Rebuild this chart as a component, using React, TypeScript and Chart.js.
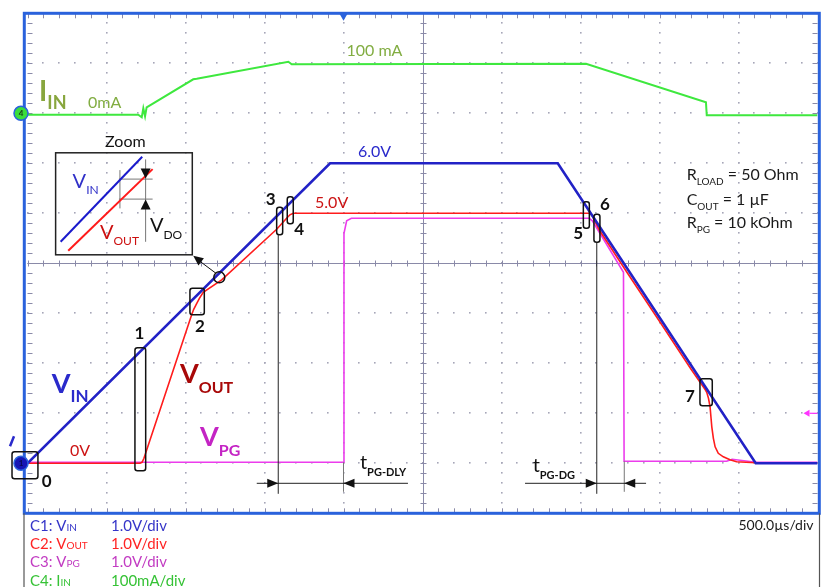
import React, { useEffect, useRef } from "react";
import { Chart, registerables } from "chart.js";

Chart.register(...registerables);

const WIDTH = 827;
const HEIGHT = 587;
const FONT = "Lato, 'Open Sans', 'Liberation Sans', sans-serif";

// Time axis: 500 µs/div, 10 divisions
const timeMin = 0;
const timeMax = 5000;
const timeDiv = 500;
// C1..C3 voltage axis: 1.0 V/div (ground one division above bottom)
const voltMin = -1;
const voltMax = 9;
// C4 current axis: 100 mA/div (ground eight divisions above bottom)
const currentMin = -800;
const currentMax = 200;

// C1: V_IN (V)
const vinTime = [0, 1915, 3356, 4609, 5000];
const vinVolts = [0, 6.0, 6.0, 0, 0];

// C2: V_OUT (V)
const voutTime = [0, 712, 725, 737, 1039, 1052, 1068, 1088, 1112, 1229, 1577, 1640, 1661, 1682, 3560, 3575, 3620, 3800, 4000, 4200, 4290, 4299, 4310, 4320, 4331, 4341, 4352, 4372, 4404, 4446, 4488, 4609, 5000];
const voutVolts = [0, 0, 0.02, 0.1, 2.97, 3.08, 3.18, 3.3, 3.42, 3.67, 4.68, 4.9, 4.97, 5.0, 5.0, 4.95, 4.66, 3.79, 2.84, 1.88, 1.47, 1.42, 1.3, 1.13, 0.73, 0.5, 0.33, 0.2, 0.13, 0.07, 0.03, 0.01, 0.01];

// C3: V_PG (V)
const vpgTime = [0, 2000, 2003, 2020, 2050, 3555, 3575, 3772, 3776, 4425, 4460, 4609, 5000];
const vpgVolts = [0.02, 0.02, 4.6, 4.85, 4.9, 4.9, 4.85, 3.82, 0.04, 0.04, 0.08, 0.02, 0.02];

// C4: I_IN (mA)
const iinTime = [0, 701, 723, 733, 744, 754, 1049, 1071, 1651, 1672, 3535, 4294, 4299, 5000];
const iinMilliamps = [-3, -3, -8, 10, -6, 12, 68, 69, 103, 98, 99, 22, -4, -4];

// Numbered event boxes (time range µs, volt range V, label position)
const boxT1 = [-98, 680, 1028, 1577, 1644, 3518, 3585, 4256];
const boxT2 = [66, 748, 1119, 1615, 1682, 3556, 3623, 4334];
const boxVTop = [0.23, 2.31, 3.5, 5.12, 5.33, 5.23, 4.98, 1.69];
const boxVBot = [-0.31, -0.15, 2.97, 4.57, 4.79, 4.7, 4.42, 1.15];
const boxLabels = ["0", "1", "2", "3", "4", "5", "6", "7"];
const boxLabelT = [122, 708, 1092, 1539, 1720, 3486, 3655, 4193];
const boxLabelV = [-0.37, 2.6, 2.73, 5.28, 4.67, 4.6, 5.17, 1.33];

const legendNames = ["C1: V", "C2: V", "C3: V", "C4: I"];
const legendSubs = ["IN", "OUT", "PG", "IN"];
const legendScales = ["1.0V/div", "1.0V/div", "1.0V/div", "100mA/div"];
const legendColors = ["#3535c8", "#ff2424", "#c23cc2", "#36c236"];

const conditionMain = ["R", "C", "R"];
const conditionSub = ["LOAD", "OUT", "PG"];
const conditionRest = [" = 50 Ohm", " = 1 \u00b5F", " = 10 kOhm"];

function pts(t: number[], v: number[]) {
  return t.map((x, i) => ({ x, y: v[i] }));
}

function tri(ctx: CanvasRenderingContext2D, x: number, y: number, dir: string, len: number, half: number) {
  ctx.beginPath();
  ctx.moveTo(x, y);
  if (dir === "right") { ctx.lineTo(x - len, y - half); ctx.lineTo(x - len, y + half); }
  else if (dir === "left") { ctx.lineTo(x + len, y - half); ctx.lineTo(x + len, y + half); }
  else if (dir === "down") { ctx.lineTo(x - half, y - len); ctx.lineTo(x + half, y - len); }
  else { ctx.lineTo(x - half, y + len); ctx.lineTo(x + half, y + len); }
  ctx.closePath();
  ctx.fill();
}

function line(ctx: CanvasRenderingContext2D, x1: number, y1: number, x2: number, y2: number) {
  ctx.beginPath();
  ctx.moveTo(x1, y1);
  ctx.lineTo(x2, y2);
  ctx.stroke();
}

function subText(ctx: CanvasRenderingContext2D, x: number, y: number, main: string, sub: string, mainFont: string, subFont: string, dy: number, color: string, rest?: string) {
  ctx.fillStyle = color;
  ctx.textAlign = "left";
  ctx.textBaseline = "alphabetic";
  ctx.font = mainFont;
  ctx.fillText(main, x, y);
  const w = ctx.measureText(main).width;
  ctx.font = subFont;
  ctx.fillText(sub, x + w, y + dy);
  if (rest) {
    const w2 = ctx.measureText(sub).width;
    ctx.font = mainFont;
    ctx.fillText(rest, x + w + w2, y);
  }
}

function roundRect(ctx: CanvasRenderingContext2D, x1: number, y1: number, x2: number, y2: number, r: number) {
  ctx.beginPath();
  ctx.moveTo(x1 + r, y1);
  ctx.lineTo(x2 - r, y1);
  ctx.quadraticCurveTo(x2, y1, x2, y1 + r);
  ctx.lineTo(x2, y2 - r);
  ctx.quadraticCurveTo(x2, y2, x2 - r, y2);
  ctx.lineTo(x1 + r, y2);
  ctx.quadraticCurveTo(x1, y2, x1, y2 - r);
  ctx.lineTo(x1, y1 + r);
  ctx.quadraticCurveTo(x1, y1, x1 + r, y1);
  ctx.closePath();
  ctx.stroke();
}

const gridPlugin = {
  id: "scopeGrid",
  beforeDraw(chart: any) {
    const { ctx, width, height } = chart;
    ctx.save();
    ctx.fillStyle = "#ffffff";
    ctx.fillRect(0, 0, width, height);
    ctx.restore();
  },
  beforeDatasetsDraw(chart: any) {
    const ctx: CanvasRenderingContext2D = chart.ctx;
    const a = chart.chartArea;
    const xs = chart.scales.x;
    const ys = chart.scales.y;
    ctx.save();
    ctx.fillStyle = "#a6a6b8";
    for (let k = 1; k < 10; k++) {
      if (k === 5) continue;
      const px = Math.round(xs.getPixelForValue(timeMin + k * timeDiv));
      for (let v = voltMin; v <= voltMax + 1e-6; v += 0.2) {
        const py = Math.round(ys.getPixelForValue(v));
        ctx.fillRect(px - 1, py - 1, 1.6, 1.6);
      }
    }
    for (let j = 1; j < 10; j++) {
      if (j === 5) continue;
      const py = Math.round(ys.getPixelForValue(voltMin + j));
      for (let t = timeMin; t <= timeMax + 1e-6; t += timeDiv / 5) {
        const px = Math.round(xs.getPixelForValue(t));
        ctx.fillRect(px - 1, py - 1, 1.6, 1.6);
      }
    }
    ctx.strokeStyle = "#8a8aa8";
    ctx.lineWidth = 1;
    const cx = Math.round(xs.getPixelForValue((timeMin + timeMax) / 2)) + 0.5;
    const cy = Math.round(ys.getPixelForValue((voltMin + voltMax) / 2)) + 0.5;
    line(ctx, a.left, cy, a.right, cy);
    line(ctx, cx, a.top, cx, a.bottom);
    for (let t = timeMin; t <= timeMax + 1e-6; t += timeDiv / 5) {
      const px = Math.round(xs.getPixelForValue(t)) + 0.5;
      line(ctx, px, cy - 3, px, cy + 3);
      line(ctx, px, a.top, px, a.top + 5);
      line(ctx, px, a.bottom - 5, px, a.bottom);
    }
    for (let v = voltMin; v <= voltMax + 1e-6; v += 0.2) {
      const py = Math.round(ys.getPixelForValue(v)) + 0.5;
      line(ctx, cx - 3, py, cx + 3, py);
      line(ctx, a.left, py, a.left + 5, py);
      line(ctx, a.right - 5, py, a.right, py);
    }
    ctx.restore();
  },
};

const annotationPlugin = {
  id: "scopeAnnotations",
  afterDatasetsDraw(chart: any) {
    const ctx: CanvasRenderingContext2D = chart.ctx;
    const a = chart.chartArea;
    const xs = chart.scales.x;
    const ys = chart.scales.y;
    const yi = chart.scales.yI;
    const X = (t: number) => xs.getPixelForValue(t);
    const Y = (v: number) => ys.getPixelForValue(v);
    ctx.save();

    // frame
    ctx.strokeStyle = "#2a62dc";
    ctx.lineWidth = 3;
    ctx.strokeRect(a.left - 3.2, a.top, a.right - a.left + 5, a.bottom - a.top);
    ctx.strokeStyle = "#555555";
    ctx.lineWidth = 1.2;
    line(ctx, a.left - 3.5, a.bottom, a.left - 3.5, HEIGHT);
    line(ctx, a.right + 2, a.bottom, a.right + 2, HEIGHT);

    // trigger marker
    ctx.fillStyle = "#2a62dc";
    tri(ctx, X(2000), a.top + 7.5, "down", 7, 4);

    // channel ground markers
    const m4y = yi.getPixelForValue(0);
    ctx.beginPath();
    ctx.arc(a.left - 6.5, m4y, 7, 0, Math.PI * 2);
    ctx.fillStyle = "#3ade3a";
    ctx.fill();
    ctx.strokeStyle = "#2a62dc";
    ctx.lineWidth = 1.5;
    ctx.stroke();
    ctx.fillStyle = "#1a3a1a";
    ctx.font = `bold 8px ${FONT}`;
    ctx.textAlign = "center";
    ctx.textBaseline = "middle";
    ctx.fillText("4", a.left - 6.5, m4y + 0.5);

    const m1y = Y(0);
    ctx.beginPath();
    ctx.arc(a.left - 6.5, m1y, 7, 0, Math.PI * 2);
    ctx.fillStyle = "#1616b4";
    ctx.fill();
    ctx.strokeStyle = "#2a62dc";
    ctx.stroke();
    ctx.fillStyle = "#0a0a50";
    ctx.fillText("1", a.left - 6.5, m1y + 0.5);
    ctx.strokeStyle = "#2a2acb";
    ctx.lineWidth = 2.5;
    line(ctx, a.left - 17.5, m1y - 17, a.left - 13.5, m1y - 27);

    // channel 3 reference marker (right)
    ctx.fillStyle = "#ff33ff";
    ctx.strokeStyle = "#ff33ff";
    ctx.lineWidth = 1.2;
    tri(ctx, a.right - 14, Y(1), "left", 6, 3.5);
    line(ctx, a.right - 8, Y(1), a.right, Y(1));

    // numbered boxes
    ctx.strokeStyle = "#111111";
    ctx.lineWidth = 1.5;
    for (let i = 0; i < boxLabels.length; i++) {
      roundRect(ctx, X(boxT1[i]), Y(boxVTop[i]), X(boxT2[i]), Y(boxVBot[i]), 2.5);
    }
    ctx.fillStyle = "#111111";
    ctx.font = `bold 17px ${FONT}`;
    ctx.textAlign = "center";
    ctx.textBaseline = "middle";
    for (let i = 0; i < boxLabels.length; i++) {
      ctx.fillText(boxLabels[i], X(boxLabelT[i]), Y(boxLabelV[i]));
    }

    // timing dimension lines
    ctx.strokeStyle = "#222222";
    ctx.lineWidth = 1;
    line(ctx, X(1587), Y(4.57), X(1587), Y(-0.61));
    line(ctx, X(3603), Y(4.42), X(3603), Y(-0.61));
    ctx.strokeStyle = "#777777";
    line(ctx, X(2000), Y(0.02), X(2000), Y(-0.57));
    line(ctx, X(3777), Y(0.04), X(3777), Y(-0.57));
    ctx.strokeStyle = "#222222";
    const dy = Y(-0.4);
    line(ctx, X(1451), dy, X(2408), dy);
    line(ctx, X(3149), dy, X(3915), dy);
    ctx.fillStyle = "#111111";
    tri(ctx, X(1587), dy, "right", 11, 4.5);
    tri(ctx, X(2000), dy, "left", 11, 4.5);
    tri(ctx, X(3603), dy, "right", 11, 4.5);
    tri(ctx, X(3777), dy, "left", 11, 4.5);
    subText(ctx, X(2104), Y(-0.11), "t", "PG-DLY", `20px ${FONT}`, `bold 11px ${FONT}`, 7, "#111111");
    subText(ctx, X(3197), Y(-0.17), "t", "PG-DG", `20px ${FONT}`, `bold 11px ${FONT}`, 7, "#111111");

    // zoom inset
    const ix = X(178), iy = Y(6.21), ix2 = X(1043), iy2 = Y(4.17);
    ctx.strokeStyle = "#222222";
    ctx.lineWidth = 1.5;
    ctx.strokeRect(ix, iy, ix2 - ix, iy2 - iy);
    ctx.fillStyle = "#111111";
    ctx.font = `16px ${FONT}`;
    ctx.textAlign = "left";
    ctx.textBaseline = "alphabetic";
    ctx.fillText("Zoom", X(491), Y(6.33));
    ctx.strokeStyle = "#777777";
    ctx.lineWidth = 1;
    line(ctx, ix + 63.3, iy + 26.3, ix + 97, iy + 26.3);
    line(ctx, ix + 63.3, iy + 46.3, ix + 97, iy + 46.3);
    line(ctx, ix + 64.3, iy + 17.3, ix + 64.3, iy + 55.6);
    line(ctx, ix + 90, iy + 6.6, ix + 90, iy + 89);
    ctx.strokeStyle = "#1a1acc";
    ctx.lineWidth = 2;
    line(ctx, ix + 5, iy + 89, ix + 86.6, iy + 4);
    ctx.strokeStyle = "#ff1a1a";
    line(ctx, ix + 12.6, iy + 98, ix + 97, iy + 16.3);
    ctx.fillStyle = "#111111";
    tri(ctx, ix + 90, iy + 25.6, "down", 10, 5);
    tri(ctx, ix + 90, iy + 46.6, "up", 10, 5);
    subText(ctx, ix + 17, iy + 35.6, "V", "IN", `20px ${FONT}`, `12px ${FONT}`, 6, "#3030c8");
    subText(ctx, ix + 44.3, iy + 86.6, "V", "OUT", `20px ${FONT}`, `12px ${FONT}`, 6, "#cc1010");
    subText(ctx, ix + 94.3, iy + 79, "V", "DO", `20px ${FONT}`, `12px ${FONT}`, 7, "#111111");

    // pointer circle and arrow
    ctx.strokeStyle = "#111111";
    ctx.lineWidth = 1.5;
    ctx.beginPath();
    ctx.arc(X(1214), Y(3.72), 5.5, 0, Math.PI * 2);
    ctx.stroke();
    ctx.lineWidth = 1;
    line(ctx, X(1193), Y(3.8), X(1049) + 6, Y(4.15) + 5);
    ctx.save();
    ctx.translate(X(1049), Y(4.15));
    ctx.rotate(Math.atan2(Y(4.15) - Y(3.8), X(1049) - X(1193)) + Math.PI);
    ctx.fillStyle = "#111111";
    tri(ctx, 0, 0, "left", 10, 4.5);
    ctx.restore();

    // trace labels
    subText(ctx, X(73), Y(7.25), "I", "IN", `bold 28px ${FONT}`, `bold 18px ${FONT}`, 8, "#88a63e");
    ctx.fillStyle = "#82ad42";
    ctx.font = `16px ${FONT}`;
    ctx.fillText("0mA", X(383), Y(7.11));
    ctx.fillText("100 mA", X(2019), Y(8.15));
    ctx.fillStyle = "#2a2acb";
    ctx.fillText("6.0V", X(2092), Y(6.13));
    ctx.fillStyle = "#cc1414";
    ctx.fillText("5.0V", X(1820), Y(5.1));
    ctx.fillText("0V", X(269), Y(0.15));
    subText(ctx, X(153), Y(1.4), "V", "IN", `bold 27px ${FONT}`, `bold 17px ${FONT}`, 9, "#2a2acb");
    subText(ctx, X(965), Y(1.6), "V", "OUT", `bold 27px ${FONT}`, `bold 16px ${FONT}`, 10, "#a80808");
    subText(ctx, X(1092), Y(0.35), "V", "PG", `bold 27px ${FONT}`, `bold 16px ${FONT}`, 10, "#c424c4");

    // test conditions
    const condV = [5.67, 5.17, 4.7];
    for (let i = 0; i < 3; i++) {
      subText(ctx, X(4172), Y(condV[i]), conditionMain[i], conditionSub[i], `16px ${FONT}`, `10px ${FONT}`, 5, "#1a1a1a", conditionRest[i]);
    }

    // bottom readout
    for (let i = 0; i < 4; i++) {
      const by = a.bottom + 17.7 + i * 18.2;
      subText(ctx, a.left + 2.5, by, legendNames[i], legendSubs[i], `15px ${FONT}`, `10px ${FONT}`, 0, legendColors[i]);
      ctx.font = `15px ${FONT}`;
      ctx.fillText(legendScales[i], a.left + 83.5, by);
    }
    ctx.fillStyle = "#1a1a1a";
    ctx.font = `14px ${FONT}`;
    ctx.textAlign = "right";
    ctx.fillText("500.0\u00b5s/div", a.right - 4, a.bottom + 16.7);

    ctx.restore();
  },
};

export default function App() {
  const ref = useRef<HTMLCanvasElement | null>(null);
  useEffect(() => {
    if (!ref.current) return;
    const chart = new Chart(ref.current, {
      type: "line",
      data: {
        datasets: [
          { label: "VIN", data: pts(vinTime, vinVolts), borderColor: "#2222c6", borderWidth: 2.6, pointRadius: 0, tension: 0, yAxisID: "y" },
          { label: "VOUT", data: pts(voutTime, voutVolts), borderColor: "#ff1c1c", borderWidth: 1.6, pointRadius: 0, tension: 0, yAxisID: "y" },
          { label: "VPG", data: pts(vpgTime, vpgVolts), borderColor: "#ec3cec", borderWidth: 1.6, pointRadius: 0, tension: 0, yAxisID: "y" },
          { label: "IIN", data: pts(iinTime, iinMilliamps), borderColor: "#3ee83e", borderWidth: 2, pointRadius: 0, tension: 0, yAxisID: "yI" },
        ],
      } as any,
      options: {
        animation: false,
        responsive: false,
        devicePixelRatio: 1,
        events: [],
        layout: { padding: { left: 27.5, right: WIDTH - 817.5, top: 13.3, bottom: HEIGHT - 513.3 } },
        plugins: { legend: { display: false }, tooltip: { enabled: false } },
        scales: {
          x: { type: "linear", min: timeMin, max: timeMax, display: false },
          y: { type: "linear", min: voltMin, max: voltMax, display: false },
          yI: { type: "linear", min: currentMin, max: currentMax, display: false },
        },
      } as any,
      plugins: [gridPlugin, annotationPlugin],
    });
    return () => chart.destroy();
  }, []);
  return (
    <div style={{ position: "absolute", left: 0, top: 0, width: WIDTH, height: HEIGHT, background: "#fff" }}>
      <canvas ref={ref} width={WIDTH} height={HEIGHT} style={{ width: WIDTH, height: HEIGHT, display: "block" }} />
    </div>
  );
}
